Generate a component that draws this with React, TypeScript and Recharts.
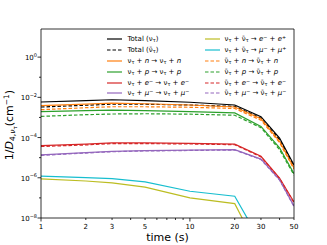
import React from "react";
import { Label, Line, LineChart, XAxis, YAxis } from "recharts";

// time grid (s)
const times = [1, 2, 3, 5, 10, 20, 30, 40, 50];

// inverse mean free paths, cm^-1
const totalNu = [5.85e-3, 6.9e-3, 7.6e-3, 6.8e-3, 5.7e-3, 4.15e-3, 1.09e-3, 9.5e-5, 4.3e-6];
const totalNuBar = [3.3e-3, 4.05e-3, 4.55e-3, 4.55e-3, 4.15e-3, 3.53e-3, 9.2e-4, 7.9e-5, 3.6e-6];
const nuN = [3.83e-3, 4.55e-3, 5.1e-3, 4.8e-3, 4.15e-3, 3.3e-3, 8.7e-4, 6.5e-5, 3.1e-6];
const nuP = [1.93e-3, 2.16e-3, 2.29e-3, 2.16e-3, 1.93e-3, 1.68e-3, 3.6e-4, 3.05e-5, 1.6e-6];
const nuE = [3.96e-5, 4.7e-5, 5.4e-5, 5.4e-5, 5.1e-5, 4.7e-5, 1.17e-5, 9.7e-7, 6.2e-8];
const nuMu = [1.37e-5, 1.78e-5, 2.07e-5, 2.24e-5, 2.37e-5, 2.5e-5, 8.5e-6, 8.1e-7, 3.9e-8];
const pairE = [8.8e-7, 6.9e-7, 5.6e-7, 3.4e-7, 1.0e-7, 5.2e-8, 1.5e-10, 1e-12, 1e-13];
const pairMu = [1.21e-6, 1.02e-6, 9.1e-7, 6.3e-7, 2.14e-7, 1.21e-7, 6.3e-10, 1e-12, 1e-13];
const barN = [2.43e-3, 3.05e-3, 3.4e-3, 3.4e-3, 3.2e-3, 2.8e-3, 7.3e-4, 5.6e-5, 2.7e-6];
const barP = [1.13e-3, 1.37e-3, 1.48e-3, 1.53e-3, 1.45e-3, 1.29e-3, 3.1e-4, 2.5e-5, 1.36e-6];
const barE = [3.6e-5, 4.3e-5, 5.0e-5, 5.0e-5, 4.8e-5, 4.4e-5, 1.1e-5, 9.2e-7, 5.8e-8];
const barMu = [1.3e-5, 1.7e-5, 1.98e-5, 2.15e-5, 2.28e-5, 2.4e-5, 8.1e-6, 7.7e-7, 3.7e-8];

const xTicks = [1, 2, 3, 4, 5, 6, 7, 8, 9, 10, 20, 30, 40, 50];
const xLabeled = [1, 2, 3, 5, 10, 20, 30, 50];
const yTicks = [1e-8, 1e-7, 1e-6, 1e-5, 1e-4, 1e-3, 1e-2, 1e-1, 1];

const nu = <>ν<sub>τ</sub></>;
const nuBar = <>ν̄<sub>τ</sub></>;
const em = <><i>e</i><sup>−</sup></>;
const ep = <><i>e</i><sup>+</sup></>;
const mm = <><i>μ</i><sup>−</sup></>;
const mp = <><i>μ</i><sup>+</sup></>;

type Series = { key: string; data: number[]; color: string; dashed: boolean; label: React.ReactNode };

const series: Series[] = [
  { key: "totalNu", data: totalNu, color: "#000000", dashed: false, label: <>Total ({nu})</> },
  { key: "totalNuBar", data: totalNuBar, color: "#000000", dashed: true, label: <>Total ({nuBar})</> },
  { key: "nuN", data: nuN, color: "#ff7f0e", dashed: false, label: <>{nu} + <i>n</i> → {nu} + <i>n</i></> },
  { key: "nuP", data: nuP, color: "#2ca02c", dashed: false, label: <>{nu} + <i>p</i> → {nu} + <i>p</i></> },
  { key: "nuE", data: nuE, color: "#d62728", dashed: false, label: <>{nu} + {em} → {nu} + {em}</> },
  { key: "nuMu", data: nuMu, color: "#9467bd", dashed: false, label: <>{nu} + {mm} → {nu} + {mm}</> },
  { key: "pairE", data: pairE, color: "#bcbd22", dashed: false, label: <>{nu} + {nuBar} → {em} + {ep}</> },
  { key: "pairMu", data: pairMu, color: "#17becf", dashed: false, label: <>{nu} + {nuBar} → {mm} + {mp}</> },
  { key: "barN", data: barN, color: "#ff7f0e", dashed: true, label: <>{nuBar} + <i>n</i> → {nuBar} + <i>n</i></> },
  { key: "barP", data: barP, color: "#2ca02c", dashed: true, label: <>{nuBar} + <i>p</i> → {nuBar} + <i>p</i></> },
  { key: "barE", data: barE, color: "#d62728", dashed: true, label: <>{nuBar} + {em} → {nuBar} + {em}</> },
  { key: "barMu", data: barMu, color: "#9467bd", dashed: true, label: <>{nuBar} + {mm} → {nuBar} + {mm}</> },
];

const rows = times.map((t, i) => {
  const r: Record<string, number> = { t };
  series.forEach((s) => (r[s.key] = s.data[i]));
  return r;
});

const DASH = "3.5 2";

function XTick({ x, y, payload }: any) {
  const v = payload.value;
  const len = v === 1 || v === 10 ? 3.5 : 2;
  return (
    <g>
      <line x1={x} x2={x} y1={y} y2={y + len} stroke="#000" strokeWidth={0.8} />
      {xLabeled.includes(v) && (
        <text x={x} y={y + 11} textAnchor="middle" fontSize={7} fill="#000">
          {v}
        </text>
      )}
    </g>
  );
}

function YTick({ x, y, payload }: any) {
  const k = Math.round(Math.log10(payload.value));
  const major = k % 2 === 0;
  return (
    <g>
      <line x1={x - (major ? 3.5 : 2)} x2={x} y1={y} y2={y} stroke="#000" strokeWidth={0.8} />
      {major && (
        <text x={x - 4} y={y + 3} textAnchor="end" fontSize={7} fill="#000">
          10
          <tspan dy={-3.5} fontSize={5}>
            {k < 0 ? "−" + -k : String(k)}
          </tspan>
        </text>
      )}
    </g>
  );
}

function Legend() {
  const cols = [
    { items: series.slice(0, 6), lineX: 107, textX: 127.5 },
    { items: series.slice(6), lineX: 204.5, textX: 224.5 },
  ];
  return (
    <>
      {cols.map((c, ci) =>
        c.items.map((s, i) => (
          <div
            key={ci + "-" + i}
            style={{
              position: "absolute",
              left: c.lineX,
              top: 39.3 + i * 10.8 - 5,
              height: 10,
              display: "flex",
              alignItems: "center",
              fontSize: 7,
              lineHeight: "10px",
              whiteSpace: "nowrap",
            }}
          >
            <svg width={15} height={10} style={{ flex: "none" }}>
              <line x1={0} x2={15} y1={5} y2={5} stroke={s.color} strokeWidth={1.2} strokeDasharray={s.dashed ? DASH : undefined} />
            </svg>
            <span style={{ marginLeft: c.textX - c.lineX - 15 }} className="lg">
              {s.label}
            </span>
          </div>
        ))
      )}
    </>
  );
}

export default function App() {
  return (
    <div
      style={{
        position: "absolute",
        left: 0,
        top: 0,
        width: 327,
        height: 245,
        background: "#fff",
        fontFamily: "'DejaVu Sans', sans-serif",
      }}
    >
      <style>{`.lg sub,.lg sup{font-size:0.7em;line-height:0}.lg sub{vertical-align:-0.3em}.lg sup{vertical-align:0.45em}`}</style>
      <LineChart width={327} height={245} data={rows} margin={{ top: 28, right: 32, bottom: 26, left: 0 }}>
        <XAxis
          dataKey="t"
          type="number"
          scale="log"
          domain={[1, 50]}
          allowDataOverflow
          ticks={xTicks}
          interval={0}
          tick={<XTick />}
          tickLine={false}
          tickSize={0}
          tickMargin={0}
          height={1}
          axisLine={{ stroke: "#000", strokeWidth: 0.8 }}
        >
          <Label
            content={(p: any) => (
              <text x={p.viewBox.x + p.viewBox.width / 2} y={p.viewBox.y + 22.5} textAnchor="middle" fontSize={11} fill="#000">
                time (s)
              </text>
            )}
          />
        </XAxis>
        <XAxis
          xAxisId="top"
          orientation="top"
          dataKey="t"
          type="number"
          scale="log"
          domain={[1, 50]}
          allowDataOverflow
          tick={false}
          tickLine={false}
          height={1}
          axisLine={{ stroke: "#000", strokeWidth: 0.8 }}
        />
        <YAxis
          type="number"
          scale="log"
          domain={[1e-8, 25]}
          allowDataOverflow
          ticks={yTicks}
          interval={0}
          tick={<YTick />}
          tickLine={false}
          tickSize={0}
          tickMargin={0}
          width={41}
          axisLine={{ stroke: "#000", strokeWidth: 0.8 }}
        >
          <Label
            content={(p: any) => {
              const cx = 12.5;
              const cy = p.viewBox.y + p.viewBox.height / 2 + 1.5;
              return (
                <text x={cx} y={cy} transform={`rotate(-90 ${cx} ${cy})`} textAnchor="middle" fontSize={11} fill="#000">
                  1/<tspan fontStyle="italic">D</tspan>
                  <tspan fontSize={7.5} dy={2.5}>4,</tspan>
                  <tspan fontSize={7.5} fontStyle="italic">ν</tspan>
                  <tspan fontSize={5.5} dy={1.5}>τ</tspan>
                  <tspan fontSize={11} dy={-4}>(cm</tspan>
                  <tspan fontSize={7.5} dy={-4}>−1</tspan>
                  <tspan fontSize={11} dy={4}>)</tspan>
                </text>
              );
            }}
          />
        </YAxis>
        <YAxis
          yAxisId="right"
          orientation="right"
          type="number"
          scale="log"
          domain={[1e-8, 25]}
          allowDataOverflow
          tick={false}
          tickLine={false}
          width={1}
          axisLine={{ stroke: "#000", strokeWidth: 0.8 }}
        />
        {series.map((s) => (
          <Line
            key={s.key}
            dataKey={s.key}
            stroke={s.color}
            strokeWidth={1.2}
            strokeDasharray={s.dashed ? DASH : undefined}
            dot={false}
            activeDot={false}
            isAnimationActive={false}
          />
        ))}
      </LineChart>
      <Legend />
    </div>
  );
}
